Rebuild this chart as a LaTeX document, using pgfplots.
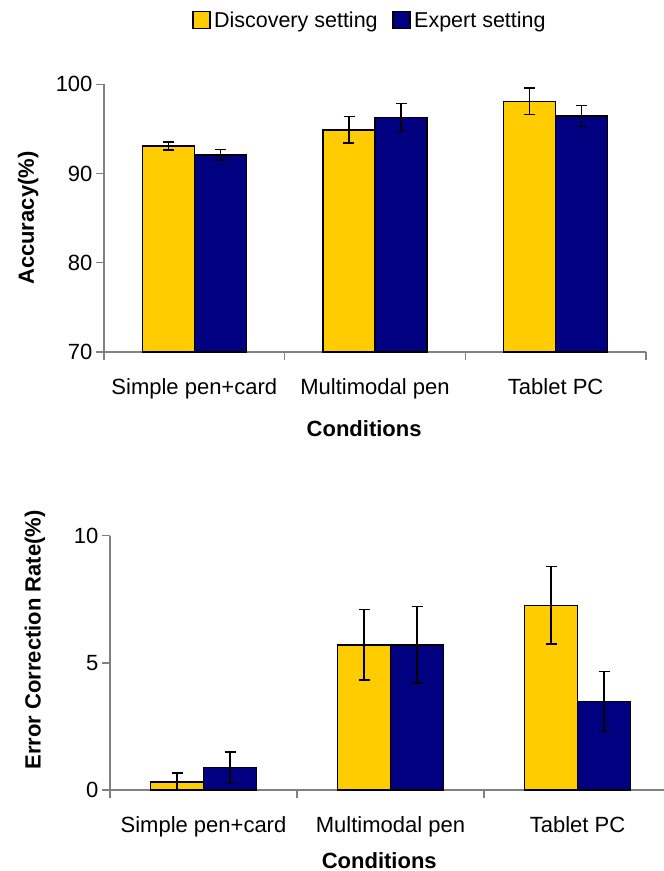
\documentclass[border=0pt]{standalone}
\usepackage{fontspec}
\setmainfont{Liberation Sans}
\usepackage{pgfplots}
\pgfplotsset{compat=1.18}
\definecolor{discyellow}{HTML}{FFCC00}
\definecolor{expnavy}{HTML}{000080}
\definecolor{axgray}{HTML}{808080}

\pgfplotsset{
  mybars/.style={
    scale only axis,
    ybar=0pt,
    axis x line*=bottom, axis y line*=left,
    axis line style={-, axgray, line width=1.3pt},
    tick style={axgray, line width=1.3pt},
    tick align=outside,
    major tick length=8pt,
    xmin=-0.5, xmax=2.5,
    xtick={-0.5,0.5,1.5,2.5}, xticklabels={},
    extra x ticks={0,1,2},
    extra x tick labels={Simple pen+card,Multimodal pen,Tablet PC},
    extra x tick style={major tick length=0pt, xticklabel style={anchor=base, yshift=-42pt}},
    font=\fontsize{22}{26}\selectfont,
    /pgf/number format/assume math mode=true,
    ylabel style={font=\bfseries\fontsize{22}{26}\selectfont, anchor=center},
    xlabel style={font=\bfseries\fontsize{22}{26}\selectfont, anchor=base},
    xlabel={Conditions},
    clip=true,
  },
  yel/.style={draw=black, line width=1.5pt, fill=discyellow,
    error bars/.cd, y dir=both, y explicit,
    error bar style={line width=1.5pt, black},
    error mark options={rotate=90, black, mark size=5.5pt, line width=1.5pt}},
  blu/.style={draw=black, line width=1.5pt, fill=expnavy,
    error bars/.cd, y dir=both, y explicit,
    error bar style={line width=1.5pt, black},
    error mark options={rotate=90, black, mark size=5.5pt, line width=1.5pt}},
}

\pgfplotstableread{
x y e
0 93.1 0.45
1 94.9 1.5
2 98.1 1.5
}\accdisc
\pgfplotstableread{
x y e
0 92.1 0.6
1 96.3 1.57
2 96.45 1.2
}\accexp
\pgfplotstableread{
x y e
0 0.31 0.35
1 5.71 1.38
2 7.26 1.52
}\ecrdisc
\pgfplotstableread{
x y e
0 0.88 0.62
1 5.71 1.51
2 3.48 1.18
}\ecrexp

\begin{document}
\begin{tikzpicture}
\useasboundingbox (0pt,0pt) rectangle (664pt,-871pt);
\begin{axis}[
  mybars,
  at={(104pt,-352pt)}, anchor=south west,
  width=542pt, height=267.7pt,
  ymin=70, ymax=100, ytick={70,80,90,100},
  bar width=52pt,
  ylabel={Accuracy(\%)},
  ylabel style={at={(axis description cs:-0.140,0.5)}},
  xlabel style={at={(axis description cs:0.48,0)}, yshift=-84pt},
  legend style={at={(axis description cs:0.162,1.24)}, anchor=west, draw=none, fill=none,
    legend columns=2, inner sep=0pt,
    nodes={inner sep=3.5pt},
    /tikz/every even column/.append style={column sep=11pt},
    font=\fontsize{21.5}{24}\selectfont},
  legend image code/.code={\draw[#1, line width=1.5pt] (0pt,-8.5pt) rectangle (17pt,8.5pt);},
]
\addplot[yel] table[x=x, y=y, y error=e] {\accdisc};
\addplot[blu] table[x=x, y=y, y error=e] {\accexp};
\legend{Discovery setting, Expert setting}
\end{axis}

\begin{axis}[
  mybars,
  at={(110pt,-790pt)}, anchor=south west,
  width=561pt, height=254.3pt,
  ymin=0, ymax=10, ytick={0,5,10},
  bar width=53pt,
  ylabel={Error Correction Rate(\%)},
  ylabel style={at={(axis description cs:-0.134,0.59)}},
  xlabel style={at={(axis description cs:0.48,0)}, yshift=-78pt},
]
\addplot[yel] table[x=x, y=y, y error=e] {\ecrdisc};
\addplot[blu] table[x=x, y=y, y error=e] {\ecrexp};
\end{axis}
\end{tikzpicture}
\end{document}
